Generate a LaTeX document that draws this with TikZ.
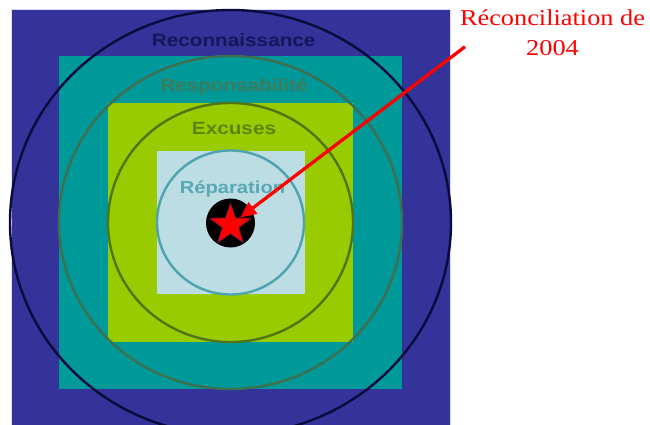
\documentclass[tikz,border=0pt]{standalone}
\usepackage{fontspec}
\usetikzlibrary{arrows.meta,shapes.geometric}
\newfontfamily\labfont[FakeStretch=1.165]{Liberation Sans}
\newfontfamily\redfont[FakeStretch=1.16]{Liberation Serif}
\definecolor{cblue}{HTML}{333399}
\definecolor{cteal}{HTML}{009999}
\definecolor{cgreen}{HTML}{99CC00}
\definecolor{clight}{HTML}{BBDDE3}
\definecolor{rblue}{HTML}{0A0A3C}
\definecolor{rteal}{HTML}{3E6F4F}
\definecolor{rgreen}{HTML}{4E7616}
\definecolor{rlight}{HTML}{4FA3AE}
\definecolor{tblue}{HTML}{16165A}
\definecolor{tteal}{HTML}{3E7B5B}
\definecolor{tgreen}{HTML}{5B850C}
\definecolor{tlight}{HTML}{58A9B4}
\definecolor{cred}{HTML}{FF0000}
\definecolor{sline}{HTML}{5A1A3A}
\tikzset{
  sq/.style={draw=none, inner sep=0pt, outer sep=0pt},
  ring/.style={line width=2.4pt},
  lab/.style={anchor=base, inner sep=0pt, font=\labfont\bfseries\fontsize{17.8}{20}\selectfont},
}
\begin{document}
\begin{tikzpicture}[x=1pt,y=-1pt]
\useasboundingbox (0,0) rectangle (650,425);
\fill[white] (0,0) rectangle (650,425);
\begin{scope}
\clip (0,0) rectangle (650,425);
\node[sq, fill=cblue, draw=blue!15, line width=0.8pt, minimum width=439pt, minimum height=427pt] (s1) at (230.5,222.5) {};
\node[sq, fill=cteal, minimum width=343pt, minimum height=333pt] (s2) at (230.5,222.5) {};
\node[sq, fill=cgreen, minimum width=245pt, minimum height=239pt] (s3) at (230.5,222.5) {};
\node[sq, fill=clight, minimum width=148pt, minimum height=143pt] (s4) at (230.5,222.5) {};
\draw[ring, rblue] (230.5,222.5) ellipse [x radius=220.5pt, y radius=212.5pt];
\draw[ring, rteal] (230.5,222.5) ellipse [x radius=171.5pt, y radius=166.5pt];
\draw[ring, rgreen] (230.5,222.5) ellipse [x radius=122.5pt, y radius=119.5pt];
\draw[ring, rlight] (230.5,222.5) ellipse [x radius=73.5pt, y radius=72pt];
\end{scope}
\node[lab, text=tblue] (t1) at (233.7,46.7) {Reconnaissance};
\node[lab, text=tteal] (t2) at (234,92) {Responsabilité};
\node[lab, text=tgreen] (t3) at (234,134.7) {Excuses};
\node[lab, text=tlight, font=\labfont\bfseries\fontsize{17.3}{20}\selectfont] (t4) at (232.5,193) {Réparation};
\node[circle, fill=black, minimum size=49pt, inner sep=0pt] (bull) at (230.5,223) {};
\node[star, star points=5, star point ratio=2.5, fill=cred, draw=sline, line width=0.8pt, minimum size=44pt, inner sep=0pt] (st) at (230.5,225) {};
\node[anchor=base, align=center, inner sep=0pt, text=cred, font=\redfont\fontsize{22.7}{30}\selectfont] (lbl) at (552.5,56) {Réconciliation de\\2004};
\coordinate (tail) at (465,46.7);
\draw[cred, line width=3.3pt, -{Triangle[length=16pt,width=14pt]}] (tail) -- (st);
\end{tikzpicture}
\end{document}
